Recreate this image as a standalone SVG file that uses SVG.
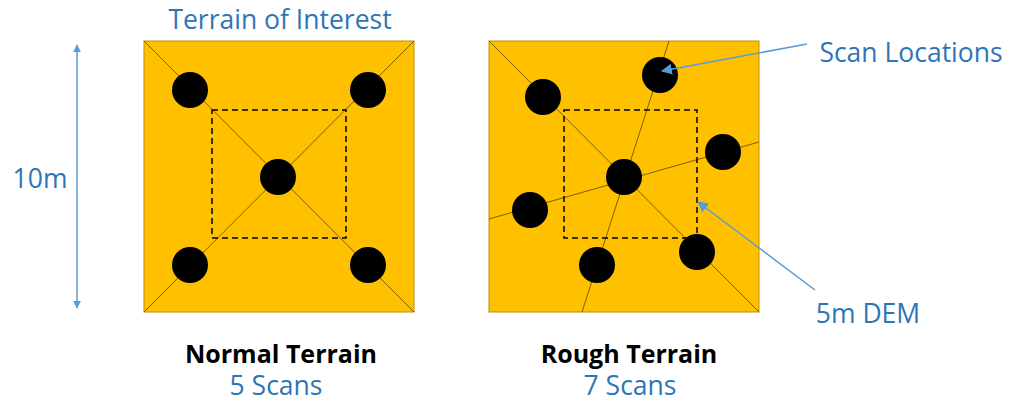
<svg xmlns="http://www.w3.org/2000/svg" width="1010" height="404" viewBox="0 0 1010 404">
  <style>
    .field { fill: #FFC000; stroke: #BF9000; stroke-width: 1; }
    .track { stroke: #7F6000; stroke-width: 1; fill: none; }
    .scan { fill: #000000; }
    .dem { fill: none; stroke: #000000; stroke-width: 1.5; stroke-dasharray: 6 4; }
    .lead { stroke: #5B9BD5; stroke-width: 1.5; fill: none; }
    .label { font-family: "Open Sans", "Liberation Sans", sans-serif; fill: #2E75B6; font-size: 26.5px; text-anchor: middle; }
    .title { font-family: "Open Sans", "Liberation Sans", sans-serif; font-weight: bold; fill: #000000; font-size: 25px; text-anchor: middle; }
  </style>
  <defs>
    <marker id="tip" viewBox="0 0 10 10" refX="9" refY="5" markerWidth="8" markerHeight="8" orient="auto-start-reverse" markerUnits="userSpaceOnUse">
      <path d="M0,0 L10,5 L0,10 Z" fill="#5B9BD5"/>
    </marker>
    <marker id="tipBig" viewBox="0 0 10 10" refX="9" refY="5" markerWidth="11" markerHeight="11" orient="auto-start-reverse" markerUnits="userSpaceOnUse">
      <path d="M0,0 L10,5 L0,10 Z" fill="#5B9BD5"/>
    </marker>
  </defs>

  <!-- Normal terrain plot -->
  <g id="normal-terrain">
    <rect class="field" x="144" y="41" width="270" height="271"/>
    <line class="track" x1="144" y1="41" x2="414" y2="312"/>
    <line class="track" x1="414" y1="41" x2="144" y2="312"/>
    <rect class="dem" x="212" y="110" width="134" height="128"/>
    <circle class="scan" cx="190" cy="90" r="18"/>
    <circle class="scan" cx="368" cy="90" r="18"/>
    <circle class="scan" cx="278" cy="177" r="18"/>
    <circle class="scan" cx="190" cy="265" r="18"/>
    <circle class="scan" cx="368" cy="265" r="18"/>
  </g>

  <!-- Rough terrain plot -->
  <g id="rough-terrain">
    <rect class="field" x="489" y="41" width="270" height="271"/>
    <line class="track" x1="489" y1="41" x2="759" y2="312"/>
    <line class="track" x1="669" y1="41" x2="582" y2="312"/>
    <line class="track" x1="489" y1="219" x2="759" y2="142"/>
    <rect class="dem" x="564" y="110" width="133" height="128"/>
    <circle class="scan" cx="660" cy="75" r="18"/>
    <circle class="scan" cx="543" cy="97" r="18"/>
    <circle class="scan" cx="624" cy="177" r="18"/>
    <circle class="scan" cx="723" cy="152" r="18"/>
    <circle class="scan" cx="530" cy="210" r="18"/>
    <circle class="scan" cx="597" cy="265" r="18"/>
    <circle class="scan" cx="697" cy="252" r="18"/>
  </g>

  <!-- Leaders and dimension -->
  <g id="connectors">
    <line class="lead" x1="77" y1="45" x2="77" y2="308" marker-start="url(#tip)" marker-end="url(#tip)"/>
    <line class="lead" x1="807" y1="44" x2="662" y2="71" stroke-width="1" marker-end="url(#tipBig)"/>
    <line class="lead" x1="815" y1="290" x2="698" y2="202" marker-end="url(#tipBig)"/>
  </g>

  <!-- Labels -->
  <g id="labels">
    <text class="label" x="280" y="29">Terrain of Interest</text>
    <text class="label" x="40" y="188" font-size="28">10m</text>
    <text class="label" x="911" y="62">Scan Locations</text>
    <text class="label" x="868" y="323">5m DEM</text>
    <text class="title" x="281" y="363">Normal Terrain</text>
    <text class="label" x="276" y="395">5 Scans</text>
    <text class="title" x="629" y="363">Rough Terrain</text>
    <text class="label" x="630" y="395">7 Scans</text>
  </g>
</svg>
